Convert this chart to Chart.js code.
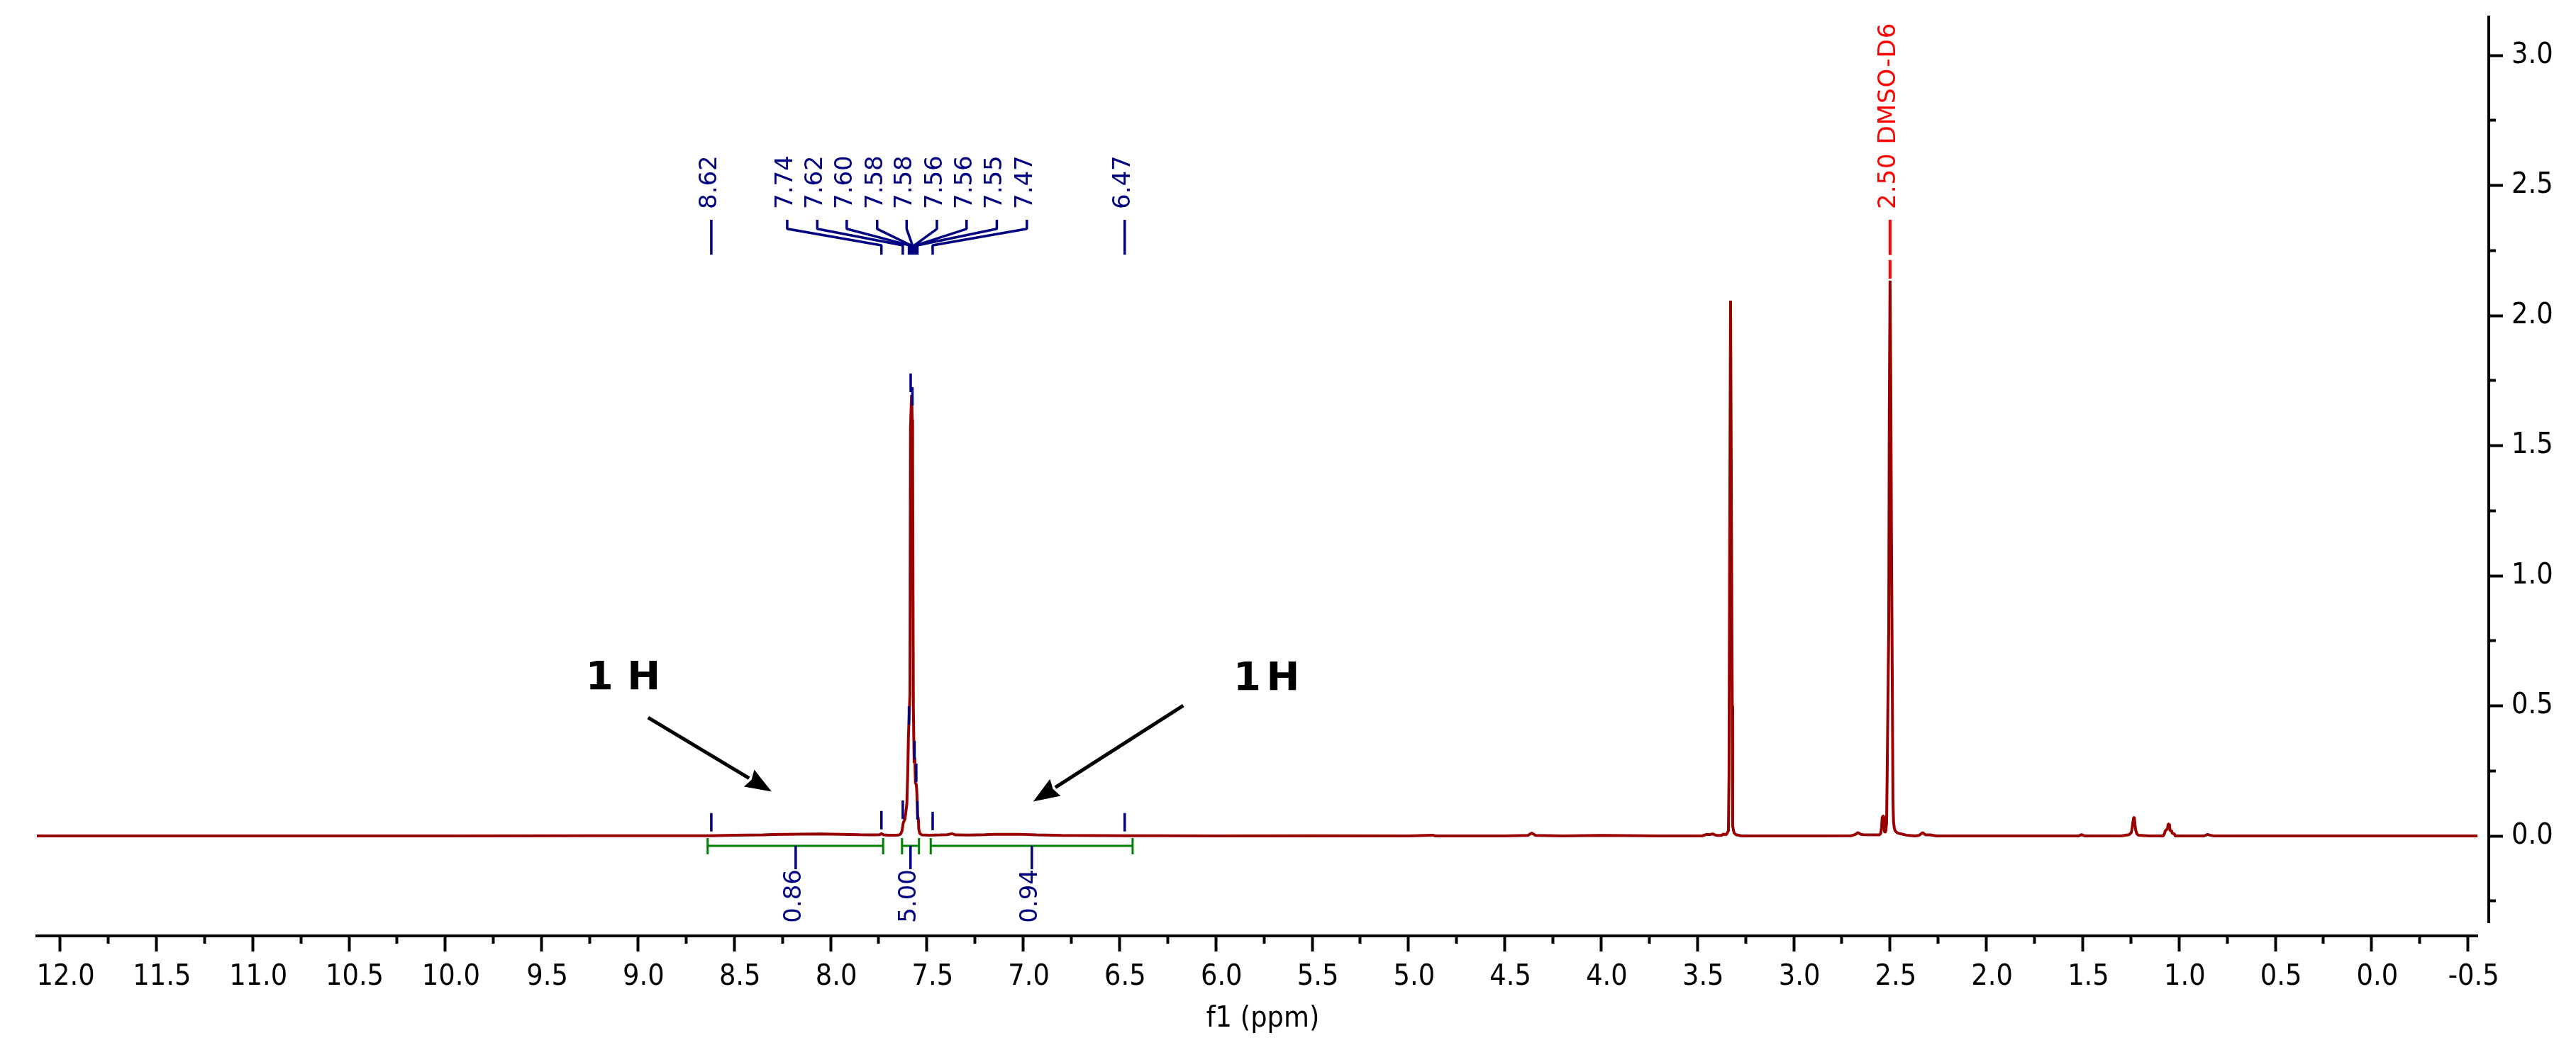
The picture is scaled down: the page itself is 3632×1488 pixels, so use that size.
<!DOCTYPE html>
<html><head><meta charset="utf-8"><style>html,body{margin:0;padding:0;background:#fff}canvas{display:block}</style>
<script src="https://cdn.jsdelivr.net/npm/chart.js@4"></script></head><body><canvas id="c" width="3632" height="1488"></canvas>
<script>
const xMajorTicks=[12,11.5,11,10.5,10,9.5,9,8.5,8,7.5,7,6.5,6,5.5,5,4.5,4,3.5,3,2.5,2,1.5,1,0.5,0,-0.5];
const xMinorTicks=[11.75,11.25,10.75,10.25,9.75,9.25,8.75,8.25,7.75,7.25,6.75,6.25,5.75,5.25,4.75,4.25,3.75,3.25,2.75,2.25,1.75,1.25,0.75,0.25,-0.25];
const yMajorTicks=[3,2.5,2,1.5,1,0.5,0];
const yMinorTicks=[2.75,2.25,1.75,1.25,0.75,0.25,-0.25];
const specPpm=[12.12,10.0,9.2,8.8,8.62,8.5,8.35,8.3,8.15,8.05,7.95,7.85,7.78,7.745,7.736,7.725,7.7,7.66,7.644,7.636,7.629,7.623,7.614,7.61,7.604,7.599,7.596,7.592,7.588,7.585,7.581,7.579,7.576,7.574,7.57,7.566,7.563,7.559,7.555,7.552,7.548,7.544,7.542,7.537,7.526,7.489,7.43,7.395,7.37,7.35,7.28,7.2,7.14,7.03,6.93,6.8,6.62,6.47,6.3,6.0,5.5,5.0,4.875,4.86,4.5,4.38,4.36,4.34,4.2,4.0,3.7,3.476,3.453,3.435,3.422,3.4,3.375,3.365,3.35,3.339,3.336,3.332,3.328,3.325,3.321,3.319,3.317,3.31,3.3,3.27,2.85,2.7,2.68,2.666,2.655,2.64,2.555,2.548,2.544,2.541,2.537,2.533,2.53,2.526,2.522,2.518,2.515,2.511,2.507,2.504,2.5,2.496,2.493,2.489,2.485,2.482,2.478,2.474,2.463,2.445,2.415,2.371,2.349,2.331,2.316,2.29,2.261,2.0,1.52,1.506,1.49,1.3,1.259,1.248,1.243,1.239,1.235,1.232,1.228,1.224,1.219,1.211,1.156,1.082,1.075,1.071,1.064,1.06,1.056,1.052,1.049,1.046,1.042,1.038,1.035,1.024,1.02,0.87,0.86,0.852,0.84,0.82,0,-0.549];
const specInt=[0,0,0.0005,0.0005,0.001,0.0025,0.004,0.0055,0.007,0.0075,0.006,0.0045,0.004,0.0045,0.009,0.004,0.003,0.003,0.004,0.008,0.019,0.049,0.065,0.087,0.122,0.25,0.375,0.46,0.542,1.567,1.66,1.695,1.6,1.447,0.485,0.28,0.3,0.2,0.2,0.166,0.08,0.063,0.025,0.01,0.004,0.003,0.004,0.005,0.0085,0.004,0.0035,0.005,0.0065,0.0065,0.004,0.002,0.0015,0.0005,0.001,0,0.0005,0,0.003,0,0,0.002,0.011,0.002,0,0.002,0,0,0.006,0.005,0.008,0.002,0.002,0.007,0.005,0.02,0.232,1.243,2.057,1.534,0.787,0.5,0.038,0.012,0.005,0,0,0.001,0.006,0.013,0.007,0.005,0.004,0.01,0.035,0.07,0.076,0.076,0.02,0.012,0.02,0.05,0.232,0.518,0.778,1.619,2.134,1.7,1.177,0.673,0.139,0.054,0.03,0.02,0.012,0.008,0.003,0,0.002,0.013,0.004,0.004,0,0,0,0.005,0,0,0.005,0.012,0.03,0.055,0.071,0.071,0.04,0.02,0.008,0.003,0,0,0.01,0.02,0.025,0.026,0.046,0.046,0.035,0.02,0.02,0.02,0.01,0.008,0,0,0.003,0.006,0.003,0,0,0];
const peakLabels=['8.62','7.74','7.62','7.60','7.58','7.58','7.56','7.56','7.55','7.47','6.47'];
const peakPpm=[8.619,7.736,7.625,7.593,7.584,7.575,7.564,7.555,7.549,7.47,6.473];
const peakTickBase=[0.017,0.025,0.065,0.428,1.706,1.654,0.294,0.207,0.063,0.022,0.017];
const labelSlotPpm=[8.619,8.225,8.069,7.916,7.758,7.605,7.448,7.294,7.137,6.981,6.473];
const integralFrom=[8.638,7.629,7.48];
const integralTo=[7.727,7.541,6.432];
const integralStem=[8.181,7.585,6.955];
const integralLabels=['0.86','5.00','0.94'];
const solventLabel='2.50 DMSO-D6';
const solventPpm=[2.5];
const noteLabel='1 H';
const notePpm=[9.271,5.909];
const noteInt=[0.564,0.561];
const arrowStartPpm=[8.947,6.169];
const arrowStartInt=[0.455,0.501];
const arrowTipPpm=[8.306,6.948];
const arrowTipInt=[0.170,0.132];

const BLUE='#000080',RED='#ff0000',DARK='#990000',GREEN='#008000';
const TICK_H=0.071, LABEL_Y=[2.368,2.333,2.27,2.234];
const peakSegs=[];
peakPpm.forEach((p,i)=>{peakSegs.push({x:p,y:peakTickBase[i]},{x:p,y:peakTickBase[i]+TICK_H},{x:p,y:null});});
const leaderSegs=[];
peakPpm.forEach((p,i)=>{const s=labelSlotPpm[i];
  leaderSegs.push({x:s,y:LABEL_Y[0]},{x:s,y:LABEL_Y[1]},{x:p,y:LABEL_Y[2]},{x:p,y:LABEL_Y[3]},{x:p,y:null});});
const intSegs=[];
integralFrom.forEach((a,i)=>{const b=integralTo[i];
  intSegs.push({x:a,y:-0.008},{x:a,y:-0.071},{x:a,y:null},{x:a,y:-0.038},{x:b,y:-0.038},{x:b,y:null},{x:b,y:-0.008},{x:b,y:-0.071},{x:b,y:null});});
const intStems=[];
integralStem.forEach(s=>{intStems.push({x:s,y:-0.038},{x:s,y:-0.128},{x:s,y:null});});
const solvSegs=[];
solventPpm.forEach(s=>{solvSegs.push({x:s,y:2.142},{x:s,y:2.213},{x:s,y:null},{x:s,y:2.232},{x:s,y:2.368},{x:s,y:null});});
const line=(label,data,color,w,order)=>({label,data,showLine:true,clip:false,borderColor:color,borderWidth:w,pointRadius:0,tension:0,order,borderJoinStyle:'bevel',borderCapStyle:'butt',spanGaps:false,fill:false});

const AXIS_FONT='"DejaVu Sans Condensed","DejaVu Sans",sans-serif';
const setTicks=a=>s=>{s.ticks=a.map(v=>({value:v}));};
const fitTo=(w,h)=>s=>{if(w!==null)s.width=w;if(h!==null)s.height=h;s.paddingLeft=s.paddingRight=s.paddingTop=s.paddingBottom=0;};
const XR={min:-0.549,max:12.12,reverse:true};
const YR={min:-0.3324,max:3.1472};

const layoutPlugin={id:'pos',afterLayout(ch){const s=ch.scales;
  s.x.top=1320;s.x.bottom=1488;s.x.left=60;s.x.right=3501;
  s.xMinor.top=1320;s.xMinor.bottom=1340;
  s.y.left=3509;s.y.right=3632;
  s.yMinor.left=3509;s.yMinor.right=3530;
}};
const textPlugin={id:'texts',afterDraw(ch){const c=ch.ctx,X=ch.scales.x,Y=ch.scales.y;
  const rot=(t,x,y,font,color,align,ls)=>{c.save();c.translate(x,y);c.rotate(-Math.PI/2);c.font=font;c.fillStyle=color;c.textAlign=align;c.textBaseline='middle';c.letterSpacing=ls||'0px';c.fillText(t,0,0);c.restore();};
  const F='34px "DejaVu Sans"';
  peakLabels.forEach((t,i)=>rot(t,X.getPixelForValue(labelSlotPpm[i])-2,295,F,BLUE,'left'));
  integralLabels.forEach((t,i)=>rot(t,X.getPixelForValue(integralStem[i])-2,1226,F,BLUE,'right'));
  rot(solventLabel,X.getPixelForValue(solventPpm[0])-2,295,F,RED,'left','1px');
  c.save();c.fillStyle='#000';c.font='bold 56px "DejaVu Sans"';c.textBaseline='alphabetic';c.textAlign='left';
  c.fillText(noteLabel,X.getPixelForValue(notePpm[0]),Y.getPixelForValue(noteInt[0]));
  c.wordSpacing='-12px';
  c.fillText(noteLabel,X.getPixelForValue(notePpm[1]),Y.getPixelForValue(noteInt[1]));
  c.restore();
  arrowTipPpm.forEach((_,i)=>{const x0=X.getPixelForValue(arrowStartPpm[i]),y0=Y.getPixelForValue(arrowStartInt[i]),x1=X.getPixelForValue(arrowTipPpm[i]),y1=Y.getPixelForValue(arrowTipInt[i]);
    const a=Math.atan2(y1-y0,x1-x0),L=37,H=14,ca=Math.cos(a),sa=Math.sin(a);
    c.save();c.strokeStyle='#000';c.fillStyle='#000';c.lineWidth=5;c.beginPath();c.moveTo(x0,y0);c.lineTo(x1-L*ca,y1-L*sa);c.stroke();
    c.beginPath();c.moveTo(x1,y1);c.lineTo(x1-L*ca-H*sa,y1-L*sa+H*ca);c.lineTo(x1-(L-4)*ca,y1-(L-4)*sa);c.lineTo(x1-L*ca+H*sa,y1-L*sa-H*ca);c.closePath();c.fill();c.restore();});
}};

new Chart(document.getElementById('c'),{type:'scatter',
 data:{datasets:[
  line('spectrum',specPpm.map((x,i)=>({x,y:specInt[i]})),DARK,4,5),
  line('solvent',solvSegs,RED,4,4),
  line('integrals',intSegs,GREEN,3,3),
  line('integralStems',intStems,BLUE,3.5,2),
  line('peakTicks',peakSegs,BLUE,3.5,1),
  line('leaders',leaderSegs,BLUE,3.5,1)
 ]},
 options:{responsive:false,animation:false,devicePixelRatio:1,
  layout:{autoPadding:false,padding:{left:52,top:24,right:0,bottom:0}},
  plugins:{legend:{display:false},tooltip:{enabled:false}},
  scales:{
   x:{type:'linear',position:'bottom',...XR,afterBuildTicks:setTicks(xMajorTicks),afterFit:fitTo(null,187),
      border:{display:false},
      grid:{drawOnChartArea:false,drawTicks:true,tickLength:22,tickWidth:4,tickColor:'#000'},
      ticks:{autoSkip:false,maxRotation:0,minRotation:0,color:'#000',padding:12,labelOffset:8,font:{family:AXIS_FONT,size:41},callback:v=>v.toFixed(1)},
      title:{display:true,text:'f1 (ppm)',color:'#000',font:{family:AXIS_FONT,size:41},padding:{top:0,bottom:26}}},
   xMinor:{type:'linear',position:'bottom',...XR,afterBuildTicks:setTicks(xMinorTicks),afterFit:fitTo(null,0),
      border:{display:true,color:'#000',width:4},
      grid:{drawOnChartArea:false,drawTicks:true,tickLength:11,tickWidth:4,tickColor:'#000'},
      ticks:{display:false,autoSkip:false}},
   y:{type:'linear',position:'right',...YR,afterBuildTicks:setTicks(yMajorTicks),afterFit:fitTo(139,null),
      border:{display:false},
      grid:{drawOnChartArea:false,drawTicks:true,tickLength:20,tickWidth:4,tickColor:'#000'},
      ticks:{autoSkip:false,color:'#000',padding:12,font:{family:AXIS_FONT,size:41},callback:v=>v.toFixed(1)}},
   yMinor:{type:'linear',position:'right',...YR,afterBuildTicks:setTicks(yMinorTicks),afterFit:fitTo(0,null),
      border:{display:true,color:'#000',width:4},
      grid:{drawOnChartArea:false,drawTicks:true,tickLength:10,tickWidth:4,tickColor:'#000'},
      ticks:{display:false,autoSkip:false}}
  }},
 plugins:[layoutPlugin,textPlugin]});
</script></body></html>
